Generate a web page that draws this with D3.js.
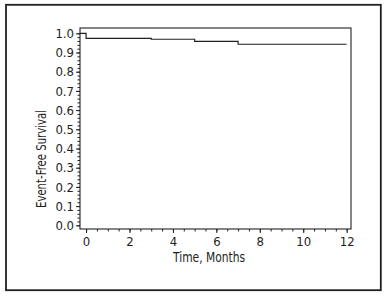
<!DOCTYPE html>
<html>
<head>
<meta charset="utf-8">
<script src="https://cdn.jsdelivr.net/npm/d3@7"></script>
<style>
  body { margin: 0; background: #fff; }
  text { font-family: "DejaVu Sans Condensed", "Liberation Sans", sans-serif; fill: #231f20; }
</style>
</head>
<body>
<div id="chart"></div>
<script>
// survival steps (time in months, event-free survival after the drop)
const stepTimes = [0, 3, 5, 7]
const stepSurvival = [0.974, 0.969, 0.958, 0.943]
const endTime = 12
const xTicks = [0, 2, 4, 6, 8, 10, 12]
const yTicks = [0, 0.1, 0.2, 0.3, 0.4, 0.5, 0.6, 0.7, 0.8, 0.9, 1.0]

const W = 388, H = 298
const plot = {left: 80, right: 351, top: 28, bottom: 229}
const ink = '#231f20'

const svg = d3.select('#chart').append('svg').attr('width', W).attr('height', H)

// outer frame
svg.append('rect')
  .attr('x', 6).attr('y', 4.8).attr('width', 374.8).attr('height', 285.4)
  .attr('fill', 'none').attr('stroke', ink).attr('stroke-width', 1.8)

const x = d3.scaleLinear().domain([-0.28, 12.2]).range([plot.left, plot.right])
const y = d3.scaleLinear().domain([0, 1]).range([225.3, 33.3])

// plot frame
svg.append('rect')
  .attr('x', plot.left).attr('y', plot.top)
  .attr('width', plot.right - plot.left).attr('height', plot.bottom - plot.top)
  .attr('fill', 'none').attr('stroke', ink).attr('stroke-width', 1.1)

// minor ticks
const xMinor = d3.range(0, 12.01, 0.5)
const yMinor = d3.range(0, 1.001, 0.02)

const xAxis = svg.append('g').attr('transform', `translate(0,${plot.bottom})`)
xAxis.call(d3.axisBottom(x).tickValues(xMinor).tickSize(2.5).tickFormat(''))
xAxis.append('g').call(d3.axisBottom(x).tickValues(xTicks).tickSize(4).tickPadding(4).tickFormat(d3.format('d')))

const yAxis = svg.append('g').attr('transform', `translate(${plot.left},0)`)
yAxis.call(d3.axisLeft(y).tickValues(yMinor).tickSize(2.5).tickFormat(''))
yAxis.append('g').call(d3.axisLeft(y).tickValues(yTicks).tickSize(4).tickPadding(2).tickFormat(d3.format('.1f')))

svg.selectAll('.domain').remove()
svg.selectAll('.tick line').attr('stroke', ink).attr('stroke-width', 1)
svg.selectAll('.tick text').attr('font-size', 13).attr('fill', ink)

// survival curve
const pts = [[x.domain()[0], 1]]
let prev = 1
stepTimes.forEach((t, i) => {
  pts.push([t, prev])
  pts.push([t, stepSurvival[i]])
  prev = stepSurvival[i]
})
pts.push([endTime, prev])

svg.append('path')
  .attr('d', d3.line().x(d => x(d[0])).y(d => y(d[1]))(pts))
  .attr('fill', 'none').attr('stroke', ink).attr('stroke-width', 1.2)

// axis titles
svg.append('text')
  .attr('x', 209).attr('y', 262)
  .attr('text-anchor', 'middle').attr('font-size', 13.5)
  .attr('textLength', 72).attr('lengthAdjust', 'spacingAndGlyphs')
  .text('Time, Months')

svg.append('text')
  .attr('transform', 'translate(46,159) rotate(-90)')
  .attr('text-anchor', 'middle').attr('font-size', 13.5)
  .attr('textLength', 98).attr('lengthAdjust', 'spacingAndGlyphs')
  .text('Event-Free Survival')
</script>
</body>
</html>
